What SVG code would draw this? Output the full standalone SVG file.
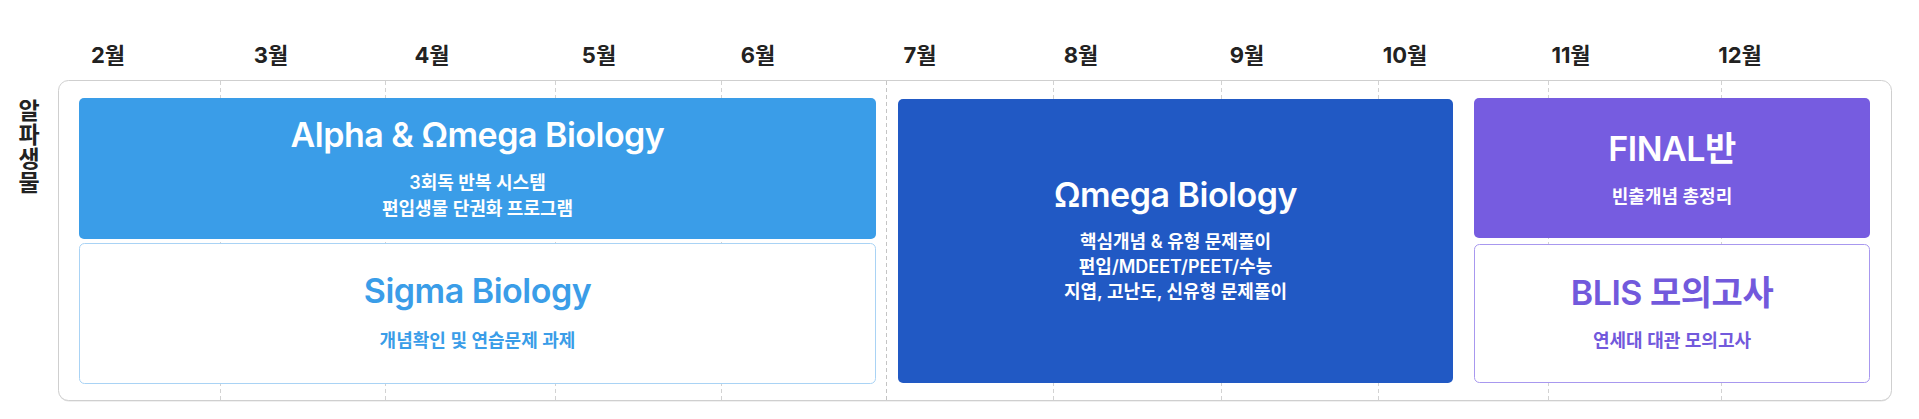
<svg xmlns="http://www.w3.org/2000/svg" width="1919" height="419" viewBox="0 0 1919 419">
  <style>
    text { font-family: Inter, "Noto Sans CJK KR", "Noto Sans", sans-serif; }
    .month { font-size: 22px; font-weight: 700; fill: #222222; text-anchor: middle; }
    .row { font-size: 23px; font-weight: 700; fill: #222222; writing-mode: vertical-rl; letter-spacing: 1px; }
    .title { font-size: 34px; font-weight: 600; text-anchor: middle; letter-spacing: -0.5px; }
    .sub { font-size: 18px; font-weight: 600; text-anchor: middle; }
    .w { fill: #ffffff; }
    .blue { fill: #3a9de8; }
    .purple { fill: #7259dc; }
    .grid { stroke: #d2d2d2; stroke-width: 1; stroke-dasharray: 4 3; fill: none; }
    .sep { stroke: #c4c4c4; stroke-width: 1; stroke-dasharray: 4 3; fill: none; }
  </style>

  <rect x="0" y="0" width="1919" height="419" fill="#ffffff"/>

  <g id="months">
    <text class="month" x="108" y="63">2월</text>
    <text class="month" x="271" y="63">3월</text>
    <text class="month" x="432" y="63">4월</text>
    <text class="month" x="599" y="63">5월</text>
    <text class="month" x="758" y="63">6월</text>
    <text class="month" x="920" y="63">7월</text>
    <text class="month" x="1081" y="63">8월</text>
    <text class="month" x="1247" y="63">9월</text>
    <text class="month" x="1405" y="63">10월</text>
    <text class="month" x="1571" y="63">11월</text>
    <text class="month" x="1740" y="63">12월</text>
  </g>

  <g id="row-label">
    <text class="row" x="27" y="99">알파생물</text>
  </g>

  <g id="frame">
    <rect x="58.5" y="81.5" width="1833" height="320" rx="10" fill="#e2e2e2"/>
    <rect x="58.5" y="80.5" width="1833" height="320" rx="10" fill="#ffffff" stroke="#cfcfcf" stroke-width="1"/>
  </g>

  <g id="connectors">
    <line class="grid" x1="220.5" y1="81" x2="220.5" y2="400"/>
    <line class="grid" x1="385.5" y1="81" x2="385.5" y2="400"/>
    <line class="grid" x1="555.5" y1="81" x2="555.5" y2="400"/>
    <line class="grid" x1="721.5" y1="81" x2="721.5" y2="400"/>
    <line class="sep" x1="886.5" y1="81" x2="886.5" y2="400"/>
    <line class="grid" x1="1053.5" y1="81" x2="1053.5" y2="400"/>
    <line class="grid" x1="1221.5" y1="81" x2="1221.5" y2="400"/>
    <line class="grid" x1="1378.5" y1="81" x2="1378.5" y2="400"/>
    <line class="grid" x1="1548.5" y1="81" x2="1548.5" y2="400"/>
    <line class="grid" x1="1721.5" y1="81" x2="1721.5" y2="400"/>
  </g>

  <g id="alpha-omega">
    <rect x="79" y="98" width="797" height="141" rx="5" fill="#3a9de8"/>
    <text class="title w" x="477.5" y="147">Alpha &amp; Ωmega Biology</text>
    <text class="sub w" x="477.5" y="189">3회독 반복 시스템</text>
    <text class="sub w" x="477.5" y="215">편입생물 단권화 프로그램</text>
  </g>

  <g id="sigma">
    <rect x="79.5" y="243.5" width="796" height="140" rx="5" fill="#ffffff" stroke="#a9d3f5" stroke-width="1"/>
    <text class="title blue" x="477.5" y="303">Sigma Biology</text>
    <text class="sub blue" x="477.5" y="347">개념확인 및 연습문제 과제</text>
  </g>

  <g id="omega">
    <rect x="898" y="99" width="555" height="284" rx="5" fill="#2159c4"/>
    <text class="title w" x="1175.5" y="207">Ωmega Biology</text>
    <text class="sub w" x="1175.5" y="248">핵심개념 &amp; 유형 문제풀이</text>
    <text class="sub w" x="1175.5" y="273">편입/MDEET/PEET/수능</text>
    <text class="sub w" x="1175.5" y="298">지엽, 고난도, 신유형 문제풀이</text>
  </g>

  <g id="final">
    <rect x="1474" y="98" width="396" height="140" rx="5" fill="#765ce0"/>
    <text class="title w" x="1672" y="161">FINAL반</text>
    <text class="sub w" x="1672" y="203">빈출개념 총정리</text>
  </g>

  <g id="blis">
    <rect x="1474.5" y="244.5" width="395" height="138" rx="5" fill="#ffffff" stroke="#a898ef" stroke-width="1"/>
    <text class="title purple" x="1672" y="305">BLIS 모의고사</text>
    <text class="sub purple" x="1672" y="347">연세대 대관 모의고사</text>
  </g>
</svg>
